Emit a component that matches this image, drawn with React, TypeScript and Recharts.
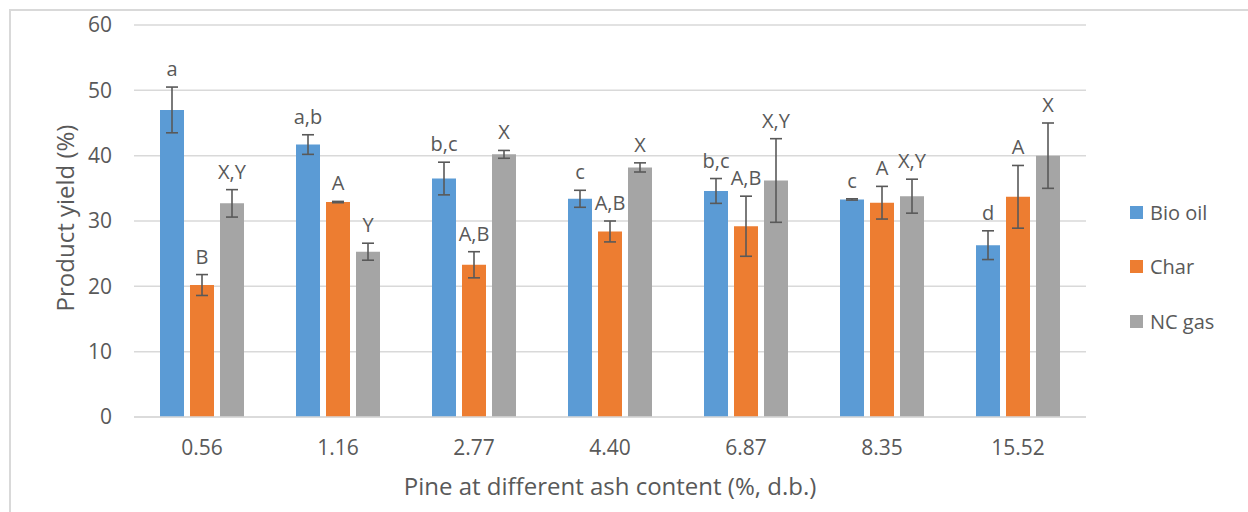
import { Bar, BarChart, CartesianGrid, ErrorBar, LabelList, Legend, XAxis, YAxis } from 'recharts';

const categories = ['0.56', '1.16', '2.77', '4.40', '6.87', '8.35', '15.52'];

const bioOil = [47.0, 41.7, 36.5, 33.4, 34.6, 33.3, 26.3];
const bioOilErr = [3.5, 1.5, 2.5, 1.3, 1.9, 0.1, 2.2];
const bioOilLetters = ['a', 'a,b', 'b,c', 'c', 'b,c', 'c', 'd'];

const char = [20.2, 32.9, 23.3, 28.4, 29.2, 32.8, 33.7];
const charErr = [1.6, 0.1, 2.0, 1.6, 4.6, 2.5, 4.8];
const charLetters = ['B', 'A', 'A,B', 'A,B', 'A,B', 'A', 'A'];

const ncGas = [32.7, 25.3, 40.2, 38.2, 36.2, 33.8, 40.0];
const ncGasErr = [2.1, 1.3, 0.6, 0.7, 6.4, 2.6, 5.0];
const ncGasLetters = ['X,Y', 'Y', 'X', 'X', 'X,Y', 'X,Y', 'X'];

const yTicks = [0, 10, 20, 30, 40, 50, 60];

const data = categories.map((ash, i) => ({
  ash,
  bioOil: bioOil[i],
  bioOilErr: bioOilErr[i],
  bioOilLetter: bioOilLetters[i],
  char: char[i],
  charErr: charErr[i],
  charLetter: charLetters[i],
  ncGas: ncGas[i],
  ncGasErr: ncGasErr[i],
  ncGasLetter: ncGasLetters[i],
}));

const FONT = '"Open Sans", sans-serif';
const TEXT = '#595959';
const GRID = '#D9D9D9';
const ERR = '#595959';

// letter sits just above the top of the error bar
function letterLabel(values: number[], errs: number[]) {
  return (props: any) => {
    const { x, y, width, height, value, index } = props;
    const v = values[index];
    const pxPerUnit = v ? height / v : 0;
    const top = y - errs[index] * pxPerUnit;
    return (
      <text
        x={x + width / 2}
        y={top - 11}
        textAnchor="middle"
        fontSize={20}
        fontFamily={FONT}
        fill={TEXT}
      >
        {value}
      </text>
    );
  };
}

function renderLegend(props: any) {
  const { payload } = props;
  return (
    <div style={{ fontFamily: FONT, fontSize: 20, color: TEXT }}>
      {payload.map((item: any) => (
        <div key={item.value} style={{ display: 'flex', alignItems: 'center', height: 54.5 }}>
          <span style={{ display: 'inline-block', width: 13, height: 13, background: item.color, marginRight: 7 }} />
          <span>{item.value}</span>
        </div>
      ))}
    </div>
  );
}

export default function App() {
  return (
    <div style={{ position: 'fixed', left: 0, top: 0, width: 1248, height: 512, background: '#fff' }}>
      <div
        style={{
          position: 'absolute',
          left: 9,
          top: 9,
          width: 1260,
          height: 520,
          borderLeft: `2px solid ${GRID}`,
          borderTop: `2px solid ${GRID}`,
        }}
      />
      <BarChart
        width={1248}
        height={512}
        data={data}
        margin={{ top: 25, right: 47, bottom: 0, left: 0 }}
        barSize={24}
        barGap={6}
        style={{ position: 'absolute', left: 0, top: 0 }}
      >
        <CartesianGrid vertical={false} stroke={GRID} strokeWidth={1.5} />
        <XAxis
          dataKey="ash"
          height={95}
          tickLine={false}
          tickSize={0}
          tickMargin={23}
          axisLine={{ stroke: GRID, strokeWidth: 1.5 }}
          tick={{ fill: TEXT, fontSize: 21, fontFamily: FONT }}
          label={{
            content: (p: any) => {
              const vb = p.viewBox;
              return (
                <text
                  x={vb.x + vb.width / 2}
                  y={vb.y + 78}
                  textAnchor="middle"
                  fontSize={24}
                  fontFamily={FONT}
                  fill={TEXT}
                >
                  Pine at different ash content (%, d.b.)
                </text>
              );
            },
          }}
        />
        <YAxis
          width={134}
          domain={[0, 60]}
          ticks={yTicks}
          axisLine={false}
          tickLine={false}
          tickSize={0}
          tickMargin={22}
          tick={{ fill: TEXT, fontSize: 21, fontFamily: FONT }}
          label={{
            content: (p: any) => {
              const vb = p.viewBox;
              const cx = vb.x + 66;
              const cy = vb.y + vb.height / 2 - 3;
              return (
                <text
                  x={cx}
                  y={cy}
                  dy="0.35em"
                  textAnchor="middle"
                  transform={`rotate(-90, ${cx}, ${cy})`}
                  fontSize={24}
                  fontFamily={FONT}
                  fill={TEXT}
                >
                  Product yield (%)
                </text>
              );
            },
          }}
        />
        <Legend
          layout="vertical"
          align="right"
          verticalAlign="top"
          content={renderLegend}
          wrapperStyle={{ left: 1130, top: 185, width: 115 }}
        />
        <Bar dataKey="bioOil" name="Bio oil" fill="#5B9BD5" isAnimationActive={false}>
          <ErrorBar dataKey="bioOilErr" width={6} stroke={ERR} strokeWidth={1.6} direction="y" isAnimationActive={false} />
          <LabelList dataKey="bioOilLetter" content={letterLabel(bioOil, bioOilErr)} />
        </Bar>
        <Bar dataKey="char" name="Char" fill="#ED7D31" isAnimationActive={false}>
          <ErrorBar dataKey="charErr" width={6} stroke={ERR} strokeWidth={1.6} direction="y" isAnimationActive={false} />
          <LabelList dataKey="charLetter" content={letterLabel(char, charErr)} />
        </Bar>
        <Bar dataKey="ncGas" name="NC gas" fill="#A5A5A5" isAnimationActive={false}>
          <ErrorBar dataKey="ncGasErr" width={6} stroke={ERR} strokeWidth={1.6} direction="y" isAnimationActive={false} />
          <LabelList dataKey="ncGasLetter" content={letterLabel(ncGas, ncGasErr)} />
        </Bar>
      </BarChart>
    </div>
  );
}
